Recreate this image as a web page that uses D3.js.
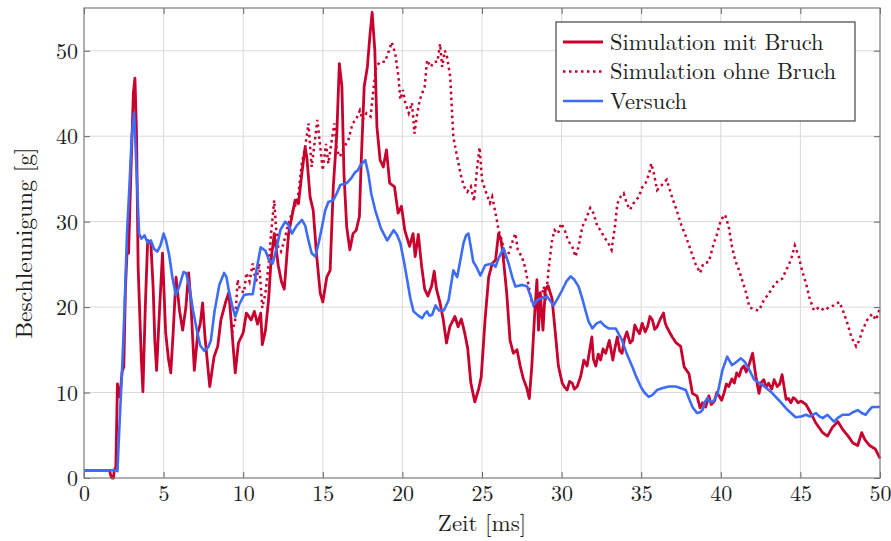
<!DOCTYPE html>
<html><head><meta charset="utf-8">
<script src="https://cdn.jsdelivr.net/npm/d3@7"></script>
<style>
html,body{margin:0;padding:0;background:#fff;}
svg{display:block;}
</style></head>
<body>
<svg id="chart" width="891" height="541"></svg>
<script>
// ---------------- data ----------------
const xTicks = [0,5,10,15,20,25,30,35,40,45,50];
const yTicks = [0,10,20,30,40,50];
const seriesNames = ["Simulation mit Bruch","Simulation ohne Bruch","Versuch"];
const xLabel = "Zeit [ms]";
const yLabel = "Beschleunigung [g]";

// Simulation mit Bruch: [t (ms), a (g)]
const mitBruch = [
[0,0.9],[1.6,0.9],[1.7,0.2],[1.75,0],[1.85,0],[1.9,0.9],[2.0,1.3],[2.1,11.0],[2.2,9.5],[2.3,10.5],[2.4,12.5],[2.5,13.0],[2.6,22.0],[2.7,26.3],[2.8,26.3],[2.95,36],[3.1,45],[3.2,46.8],[3.3,40.3],[3.4,24.7],[3.5,19.3],[3.6,14],[3.7,10.1],[3.85,20],[4.0,27.8],[4.2,27.5],[4.35,22],[4.45,16],[4.56,12.6],[4.7,18],[4.93,26.3],[5.13,17],[5.3,14],[5.45,12.3],[5.6,17],[5.78,23.5],[6.0,19.6],[6.2,17.3],[6.4,20],[6.57,24],[6.7,21],[6.93,12.6],[7.15,17],[7.3,18],[7.45,20.5],[7.6,16.5],[7.9,10.7],[8.17,14.2],[8.4,15.4],[8.6,18.5],[8.9,20.6],[9.1,21.7],[9.3,17],[9.5,12.3],[9.7,15.8],[10.0,17],[10.2,19.3],[10.5,18.5],[10.7,19.5],[10.9,18],[11.1,19.3],[11.2,15.6],[11.4,17.3],[11.6,21],[11.75,25.5],[11.95,28.6],[12.2,24.9],[12.4,23],[12.58,22.1],[12.85,28.6],[13.05,30.5],[13.26,32.5],[13.47,32.1],[13.68,35.6],[13.89,38.7],[14.0,37.5],[14.2,32.9],[14.4,31.3],[14.6,26.3],[14.84,21.6],[15.0,20.6],[15.25,23.5],[15.46,24.3],[15.66,34.1],[15.88,40.3],[16.04,48.5],[16.2,45.8],[16.33,35.6],[16.5,29.4],[16.7,26.7],[16.9,28.6],[17.1,29],[17.3,30.6],[17.4,36.4],[17.6,45.8],[17.8,48.1],[17.97,52],[18.1,54.5],[18.27,50],[18.4,41.1],[18.6,37.2],[18.8,36.4],[19.0,38.4],[19.2,34.5],[19.5,34.1],[19.73,31],[19.94,31.8],[20.15,29],[20.45,27.1],[20.67,28.6],[20.8,25.9],[21.0,28.5],[21.2,24.9],[21.4,22.1],[21.6,21.3],[21.84,22.5],[22.0,24.2],[22.14,22.1],[22.35,20.6],[22.56,18.6],[22.77,15.8],[22.98,17.7],[23.3,18.9],[23.5,17.7],[23.7,18.6],[23.9,17.1],[24.1,15.2],[24.3,11.1],[24.55,8.9],[24.8,10.5],[24.95,11.8],[25.2,18.7],[25.42,23.5],[25.64,25.1],[25.85,25.5],[26.04,28.6],[26.2,27.8],[26.35,25.5],[26.55,21.7],[26.76,16.1],[26.97,14.6],[27.2,15],[27.4,13.1],[27.6,11.6],[27.8,10.6],[27.97,9.3],[28.13,13.1],[28.3,18.9],[28.45,23.2],[28.55,17.3],[28.66,21.7],[28.83,17.3],[28.98,22.1],[29.15,22.5],[29.4,21],[29.6,17.1],[29.8,13.1],[30.04,11.1],[30.2,10.6],[30.35,10.3],[30.5,11.3],[30.67,11.1],[30.8,10.4],[30.98,10.7],[31.2,11.9],[31.4,13.8],[31.6,13.1],[31.75,14.8],[31.9,16.5],[32.0,13.9],[32.15,13.1],[32.3,14.5],[32.45,13.8],[32.6,15.1],[32.77,14.6],[33.0,16.1],[33.22,13.8],[33.35,15.2],[33.5,16.5],[33.65,14.9],[33.8,14.6],[33.95,16.3],[34.1,17.1],[34.3,15.8],[34.45,16.1],[34.6,17.9],[34.75,17.3],[34.9,16.9],[35.06,18.1],[35.25,17.1],[35.4,17.7],[35.55,18.9],[35.7,18.5],[35.85,17.4],[36.0,17.7],[36.2,18.6],[36.4,19.3],[36.5,18.2],[36.6,17.7],[36.8,17.0],[36.95,16.5],[37.2,15.8],[37.48,15.4],[37.7,13.0],[38.0,12.2],[38.22,9.9],[38.5,9.6],[38.7,8.2],[38.85,8.8],[39.05,8.3],[39.25,9.6],[39.4,8.6],[39.6,9.0],[39.75,10.0],[39.9,9.6],[40.05,9.1],[40.2,9.9],[40.35,11.0],[40.5,10.7],[40.7,11.6],[40.85,11.1],[41.0,12.3],[41.15,11.9],[41.3,12.8],[41.45,13.1],[41.6,12.4],[41.8,13.4],[42.0,14.6],[42.2,11.9],[42.4,9.9],[42.55,11.2],[42.7,11.5],[42.85,10.6],[43.0,11.1],[43.2,10.4],[43.35,11.5],[43.55,10.7],[43.7,11.0],[43.85,12.1],[44.1,9.2],[44.25,9.3],[44.4,8.8],[44.55,9.4],[44.7,9.2],[44.85,8.8],[45.05,9.0],[45.35,8.6],[45.65,7.6],[45.95,6.5],[46.4,5.3],[46.7,4.9],[47.0,5.9],[47.35,6.6],[47.65,5.7],[48.0,4.9],[48.3,4.1],[48.6,3.8],[48.85,5.3],[49.05,4.5],[49.35,3.8],[49.7,3.4],[50,2.3]
];

// Simulation ohne Bruch (diverges from mit Bruch after ~9.3 ms)
const ohneBruch = [
[9.3,17.0],[9.5,18.5],[9.65,23.2],[9.8,22],[10.05,21.7],[10.2,24],[10.4,23.0],[10.6,25.1],[10.8,22.8],[11.0,25.1],[11.2,19.9],[11.4,21.7],[11.6,25],[11.75,28.6],[11.95,32.5],[12.05,29.5],[12.2,27.0],[12.37,26.5],[12.54,27.5],[12.85,29.8],[13.05,31.0],[13.26,31.8],[13.47,33.3],[13.68,36.8],[13.89,38.7],[14.1,41.5],[14.3,36.4],[14.45,38.7],[14.66,41.9],[14.84,38.7],[15.0,36.0],[15.2,39.1],[15.35,36.8],[15.56,39.5],[15.73,41.5],[15.88,38.4],[16.08,37.6],[16.33,38.7],[16.6,39.5],[16.87,41.5],[17.08,41.9],[17.33,43.0],[17.5,41.9],[17.75,42.7],[18.0,42.3],[18.2,45.8],[18.35,48.1],[18.6,48.7],[18.9,48.7],[19.1,49.7],[19.33,51.0],[19.55,49.7],[19.75,47.0],[19.87,44.3],[20.03,45.4],[20.18,43.9],[20.4,42.7],[20.6,43.9],[20.76,40.3],[20.9,42.3],[21.1,44.3],[21.4,45.8],[21.55,48.9],[21.77,48.1],[22.0,48.7],[22.2,48.7],[22.37,50.8],[22.5,48.1],[22.67,50.0],[22.8,49.3],[23.0,47.0],[23.2,39.9],[23.44,37.6],[23.65,35.6],[23.87,34.1],[24.08,33.5],[24.3,34.1],[24.5,32.4],[24.7,36.4],[24.85,38.7],[25.0,34.9],[25.2,33.7],[25.5,32.2],[25.64,32.9],[25.85,31.0],[26.04,29.0],[26.25,27.8],[26.46,25.9],[26.67,26.3],[26.88,27.5],[27.1,28.6],[27.25,26.7],[27.5,25.9],[27.7,24.7],[27.9,22.8],[28.1,20.8],[28.35,19.7],[28.66,20.5],[28.88,22.4],[29.0,20.8],[29.2,24.7],[29.4,27.8],[29.56,29.0],[29.77,28.6],[29.98,29.8],[30.2,29.0],[30.4,27.8],[30.67,27.1],[30.87,25.9],[31.07,27.1],[31.3,29.4],[31.5,30.2],[31.8,31.6],[32.0,31.0],[32.25,29.4],[32.45,29.0],[32.67,28.2],[32.93,27.5],[33.14,26.7],[33.35,29.4],[33.5,32.1],[33.7,32.9],[33.9,33.3],[34.1,32.1],[34.3,31.4],[34.5,32.1],[34.85,32.9],[35.06,34.0],[35.27,34.5],[35.5,35.6],[35.63,36.8],[35.8,35.6],[36.0,33.7],[36.2,34.1],[36.4,34.5],[36.6,34.9],[36.8,33.7],[37.0,32.5],[37.2,31.5],[37.48,29.8],[37.8,28.3],[38.1,26.7],[38.4,25.1],[38.7,24.0],[38.9,25.1],[39.25,25.3],[39.55,27.4],[39.76,28.5],[40.0,30.2],[40.27,30.8],[40.5,29.4],[40.7,27.1],[40.9,25.5],[41.15,24.3],[41.4,22.8],[41.6,21.6],[41.8,20.0],[42.1,19.7],[42.4,19.6],[42.7,20.8],[42.95,21.4],[43.3,22.4],[43.6,23.1],[43.85,23.3],[44.1,24.3],[44.4,25.5],[44.65,27.2],[44.9,25.9],[45.1,24.3],[45.35,22.8],[45.55,21.2],[45.85,19.6],[46.2,20.0],[46.5,19.6],[46.8,20.0],[47.1,20.2],[47.45,20.6],[47.75,19.2],[47.95,18.1],[48.2,16.5],[48.5,15.4],[48.7,16.1],[48.9,17.3],[49.2,18.5],[49.5,19.2],[49.75,18.5],[50.0,19.9]
];

// Versuch
const versuch = [
[0,0.9],[2.0,0.9],[2.1,0.8],[2.2,5],[2.4,13],[2.55,20],[2.7,28.6],[2.85,34],[3.0,40],[3.15,42.7],[3.3,36],[3.46,28.6],[3.6,28.0],[3.8,28.4],[4.0,27.5],[4.2,27.8],[4.4,26.8],[4.6,26.5],[4.8,27.2],[5.0,28.6],[5.15,27.8],[5.35,26.1],[5.55,23.5],[5.77,21.4],[6.0,22.5],[6.25,24.1],[6.4,24.0],[6.6,22.6],[6.85,19.6],[7.1,17.2],[7.3,15.5],[7.55,14.9],[7.8,15.3],[7.97,16.1],[8.2,19.5],[8.5,22.6],[8.8,24.0],[8.95,23.5],[9.1,21.9],[9.3,20.2],[9.5,18.9],[9.75,20.3],[10.05,21.4],[10.3,21.5],[10.6,21.5],[10.85,24.5],[11.1,27.0],[11.25,26.8],[11.4,26.6],[11.6,25.6],[11.85,25.1],[12.1,26.9],[12.33,29.0],[12.64,30.0],[12.85,29.6],[13.06,28.6],[13.35,29.5],[13.69,30.2],[13.9,29.5],[14.1,27.8],[14.3,26.3],[14.53,25.9],[14.75,27.6],[14.95,29.4],[15.15,31.3],[15.35,32.3],[15.66,32.5],[15.9,33.4],[16.1,34.3],[16.5,34.5],[16.75,35.0],[17.04,35.8],[17.2,36.0],[17.36,36.6],[17.67,37.2],[17.86,35.6],[18.05,33.2],[18.3,31.3],[18.65,29.2],[19.04,27.8],[19.25,28.4],[19.45,29.0],[19.65,28.5],[19.87,27.5],[20.1,25.3],[20.3,23.2],[20.5,21.0],[20.7,19.5],[21.0,19.0],[21.24,18.7],[21.4,19.2],[21.55,19.5],[21.7,19.0],[21.87,19.1],[22.08,20.2],[22.3,19.6],[22.6,19.6],[22.9,20.8],[23.2,24.3],[23.44,23.5],[23.84,27.5],[24.0,28.4],[24.15,28.6],[24.3,27.0],[24.45,25.3],[24.65,24.7],[24.9,23.7],[25.2,24.9],[25.64,25.1],[25.85,24.7],[26.04,25.7],[26.35,26.9],[26.67,25.1],[26.9,23.5],[27.1,22.4],[27.53,22.6],[27.84,22.4],[28.05,21.3],[28.24,20.2],[28.45,20.8],[28.68,21.0],[29.1,21.2],[29.5,20.2],[29.75,21.0],[30.04,22.0],[30.3,23.0],[30.57,23.6],[30.8,23.2],[31.07,22.4],[31.3,21.0],[31.5,19.6],[31.7,18.3],[31.93,17.5],[32.2,18.1],[32.45,18.3],[32.7,17.8],[32.96,17.5],[33.4,17.5],[33.8,16.1],[34.1,14.5],[34.45,13.0],[34.7,11.8],[34.97,10.7],[35.2,10.0],[35.47,9.5],[35.7,9.7],[36.0,10.3],[36.3,10.5],[36.73,10.7],[37.17,10.7],[37.5,10.5],[37.8,10.3],[38.0,9.3],[38.22,8.3],[38.5,7.6],[38.7,7.7],[38.85,7.95],[39.0,8.9],[39.16,9.35],[39.3,9.0],[39.48,8.9],[39.65,9.3],[39.8,9.9],[40.1,12.6],[40.4,14.2],[40.7,13.2],[41.0,13.6],[41.26,14.0],[41.5,13.6],[41.7,13.0],[42.1,11.5],[42.6,10.9],[43.14,10.1],[43.65,9.1],[44.2,7.95],[44.7,7.1],[45.05,7.2],[45.35,7.4],[45.6,7.2],[45.97,7.6],[46.2,7.2],[46.4,7.0],[46.7,7.4],[46.9,7.0],[47.1,6.6],[47.4,7.1],[47.65,7.4],[48.05,7.4],[48.3,7.7],[48.6,7.95],[48.85,7.6],[49.1,7.4],[49.3,7.9],[49.5,8.3],[50,8.3]
];

// ---------------- chart ----------------
const W = 891, H = 541;
const m = {left:84, right:11, top:8, bottom:63};
const RED = "#c8002e", BLUE = "#3d6cf7";
const FONT = "'Latin Modern Roman'";
const TXT = "#1e1e1e";

const svg = d3.select("#chart");
const x = d3.scaleLinear().domain([0,50]).range([m.left, W - m.right]);
const y = d3.scaleLinear().domain([0,55]).range([H - m.bottom, m.top]);

// grid
const grid = svg.append("g").attr("stroke","#d9d9d9").attr("stroke-width",1);
grid.selectAll("line.v").data(xTicks.slice(1,-1)).join("line")
  .attr("x1",d=>x(d)).attr("x2",d=>x(d)).attr("y1",y(55)).attr("y2",y(0));
grid.selectAll("line.h").data(yTicks.slice(1)).join("line")
  .attr("x1",x(0)).attr("x2",x(50)).attr("y1",d=>y(d)).attr("y2",d=>y(d));

// lines
const line = d3.line().x(d=>x(d[0])).y(d=>y(d[1]));
const plot = svg.append("g");
plot.append("path").datum(mitBruch).attr("d",line)
  .attr("fill","none").attr("stroke",RED).attr("stroke-width",2.8).attr("stroke-linejoin","round");
plot.append("path").datum(ohneBruch).attr("d",line)
  .attr("fill","none").attr("stroke",RED).attr("stroke-width",2.5).attr("stroke-dasharray","2.5,3.5");
plot.append("path").datum(versuch).attr("d",line)
  .attr("fill","none").attr("stroke",BLUE).attr("stroke-width",2.6).attr("stroke-linejoin","round");

// axes (ticks inward)
const fmt = d3.format("d");
const axB = svg.append("g").attr("transform",`translate(0,${y(0)})`)
  .call(d3.axisBottom(x).tickValues(xTicks).tickFormat(fmt).tickSizeInner(-6).tickSizeOuter(0).tickPadding(6));
const axL = svg.append("g").attr("transform",`translate(${x(0)},0)`)
  .call(d3.axisLeft(y).tickValues(yTicks).tickFormat(fmt).tickSizeInner(-6).tickSizeOuter(0).tickPadding(6));
const axT = svg.append("g").attr("transform",`translate(0,${y(55)})`)
  .call(d3.axisTop(x).tickValues(xTicks).tickFormat("").tickSizeInner(-6).tickSizeOuter(0));
const axR = svg.append("g").attr("transform",`translate(${x(50)},0)`)
  .call(d3.axisRight(y).tickValues(yTicks).tickFormat("").tickSizeInner(-6).tickSizeOuter(0));
[axB,axL,axT,axR].forEach(a=>{
  a.attr("font-family",null).attr("font-size",null);
  a.select(".domain").remove();
  a.selectAll(".tick line").attr("stroke","#666").attr("stroke-width",1);
  a.selectAll(".tick text").style("font-family",FONT).style("font-size","22px").attr("fill",TXT);
});
axB.selectAll(".tick text").attr("dy","0.75em");
axL.selectAll(".tick text").attr("dy","0.34em");

// frame
svg.append("rect").attr("x",x(0)).attr("y",y(55)).attr("width",x(50)-x(0)).attr("height",y(0)-y(55))
  .attr("fill","none").attr("stroke","#7a7a7a").attr("stroke-width",1.2);

// axis titles
svg.append("text").attr("x",(x(0)+x(50))/2).attr("y",531).attr("text-anchor","middle")
  .style("font-family",FONT).style("font-size","23px").attr("fill",TXT).text(xLabel);
svg.append("text").attr("transform",`translate(32,${(y(0)+y(55))/2}) rotate(-90)`).attr("text-anchor","middle")
  .style("font-family",FONT).style("font-size","23.5px").attr("fill",TXT).text(yLabel);

// legend
const lg = svg.append("g");
lg.append("rect").attr("x",556).attr("y",22).attr("width",299).attr("height",99)
  .attr("fill","#fff").attr("stroke","#444").attr("stroke-width",1.2);
const legItems = [
  {name:seriesNames[0], color:RED, dash:null, w:2.8},
  {name:seriesNames[1], color:RED, dash:"2.5,3.5", w:2.5},
  {name:seriesNames[2], color:BLUE, dash:null, w:2.6}
];
legItems.forEach((it,i)=>{
  const cy = 42 + i*29.5;
  lg.append("line").attr("x1",563).attr("x2",603).attr("y1",cy).attr("y2",cy)
    .attr("stroke",it.color).attr("stroke-width",it.w).attr("stroke-dasharray",it.dash);
  lg.append("text").attr("x",610).attr("y",cy+7.5)
    .style("font-family",FONT).style("font-size","22.5px").attr("fill",TXT).text(it.name);
});
</script>
</body></html>
